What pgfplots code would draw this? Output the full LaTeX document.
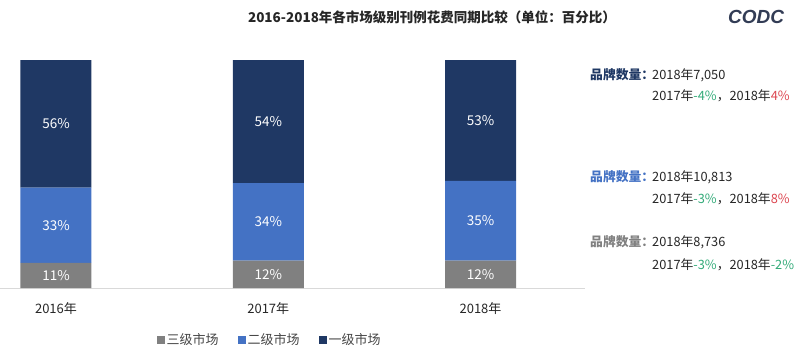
\documentclass[border=0pt]{standalone}
\usepackage{pgfplots}
\pgfplotsset{compat=1.18}
\usepackage{pgfplotstable}
\usepackage{fontspec}
\setmainfont{Noto Sans CJK SC}
\newfontfamily\logofont{Liberation Sans}
\definecolor{navy}{RGB}{31,56,100}
\definecolor{midblue}{RGB}{68,114,196}
\definecolor{gry}{RGB}{128,128,128}
\definecolor{grn}{RGB}{50,170,120}
\definecolor{rd}{RGB}{220,70,80}
\definecolor{txt}{RGB}{38,38,38}
\definecolor{legtxt}{RGB}{70,70,70}
\definecolor{axl}{RGB}{217,217,217}
\definecolor{logoc}{RGB}{50,60,85}
\pgfplotstableread{
x a b c
0 11 33 56
1 12 34 54
2 12 35 53
}\data

\begin{document}
\begin{tikzpicture}[x=1pt,y=1pt]
\path[use as bounding box] (0,0) rectangle (800,354);
\begin{axis}[
 at={(0pt,66pt)}, anchor=south west,
 scale only axis, width=585pt, height=228pt,
 xmin=-0.2638, xmax=2.4923, ymin=0, ymax=100,
 ybar stacked, bar width=71pt,
 axis x line*=bottom, axis y line=none,
 x axis line style={draw=axl, line width=0.8pt, -},
 xtick={0,1,2}, xticklabels={2016年,2017年,2018年},
 major tick length=0pt,
 xticklabel style={font=\fontsize{13}{13}\selectfont, text=txt, yshift=-11pt},
 ytick=\empty,
 point meta=rawy,
 nodes near coords={\pgfmathprintnumber[assume math mode=true]{\pgfplotspointmeta}\%},
 every node near coord/.append style={font=\fontsize{13.5}{14}\selectfont, text=white, anchor=center},
 legend columns=3,
 legend style={at={(0.461,-0.228)}, anchor=center, draw=none, font=\fontsize{13}{13}\selectfont, text=legtxt, /tikz/every even column/.append style={column sep=17pt}},
 legend image code/.code={\fill[#1] (0pt,-4pt) rectangle (8pt,4pt);},
 clip=false,
]
\addplot[fill=gry, draw=none] table[x=x, y=a] {\data};
\addlegendentry{三级市场}
\addplot[fill=midblue, draw=none] table[x=x, y=b] {\data};
\addlegendentry{二级市场}
\addplot[fill=navy, draw=none] table[x=x, y=c] {\data};
\addlegendentry{一级市场}
\end{axis}
\node[text=txt, font=\fontsize{13.5}{14}\selectfont\bfseries] at (432,337) {2016-2018年各市场级别刊例花费同期比较（单位：百分比）};
\node[text=logoc, font=\logofont\itshape\bfseries\fontsize{19}{19}\selectfont] at (756,337) {CODC};
\begin{scope}[every node/.style={anchor=west, inner sep=0pt, font=\fontsize{12.8}{13}\selectfont, text=txt}]
\node at (590,279) {\bfseries\color{navy}品牌数量：};
\node at (652,279) {2018年7,050};
\node at (652,258) {2017年\textcolor{grn}{-4\%}，2018年\textcolor{rd}{4\%}};
\node at (590,177) {\bfseries\color{midblue}品牌数量：};
\node at (652,177) {2018年10,813};
\node at (652,155) {2017年\textcolor{grn}{-3\%}，2018年\textcolor{rd}{8\%}};
\node at (590,112) {\bfseries\color{gry}品牌数量：};
\node at (652,112) {2018年8,736};
\node at (652,89) {2017年\textcolor{grn}{-3\%}，2018年\textcolor{grn}{-2\%}};
\end{scope}
\end{tikzpicture}
\end{document}
